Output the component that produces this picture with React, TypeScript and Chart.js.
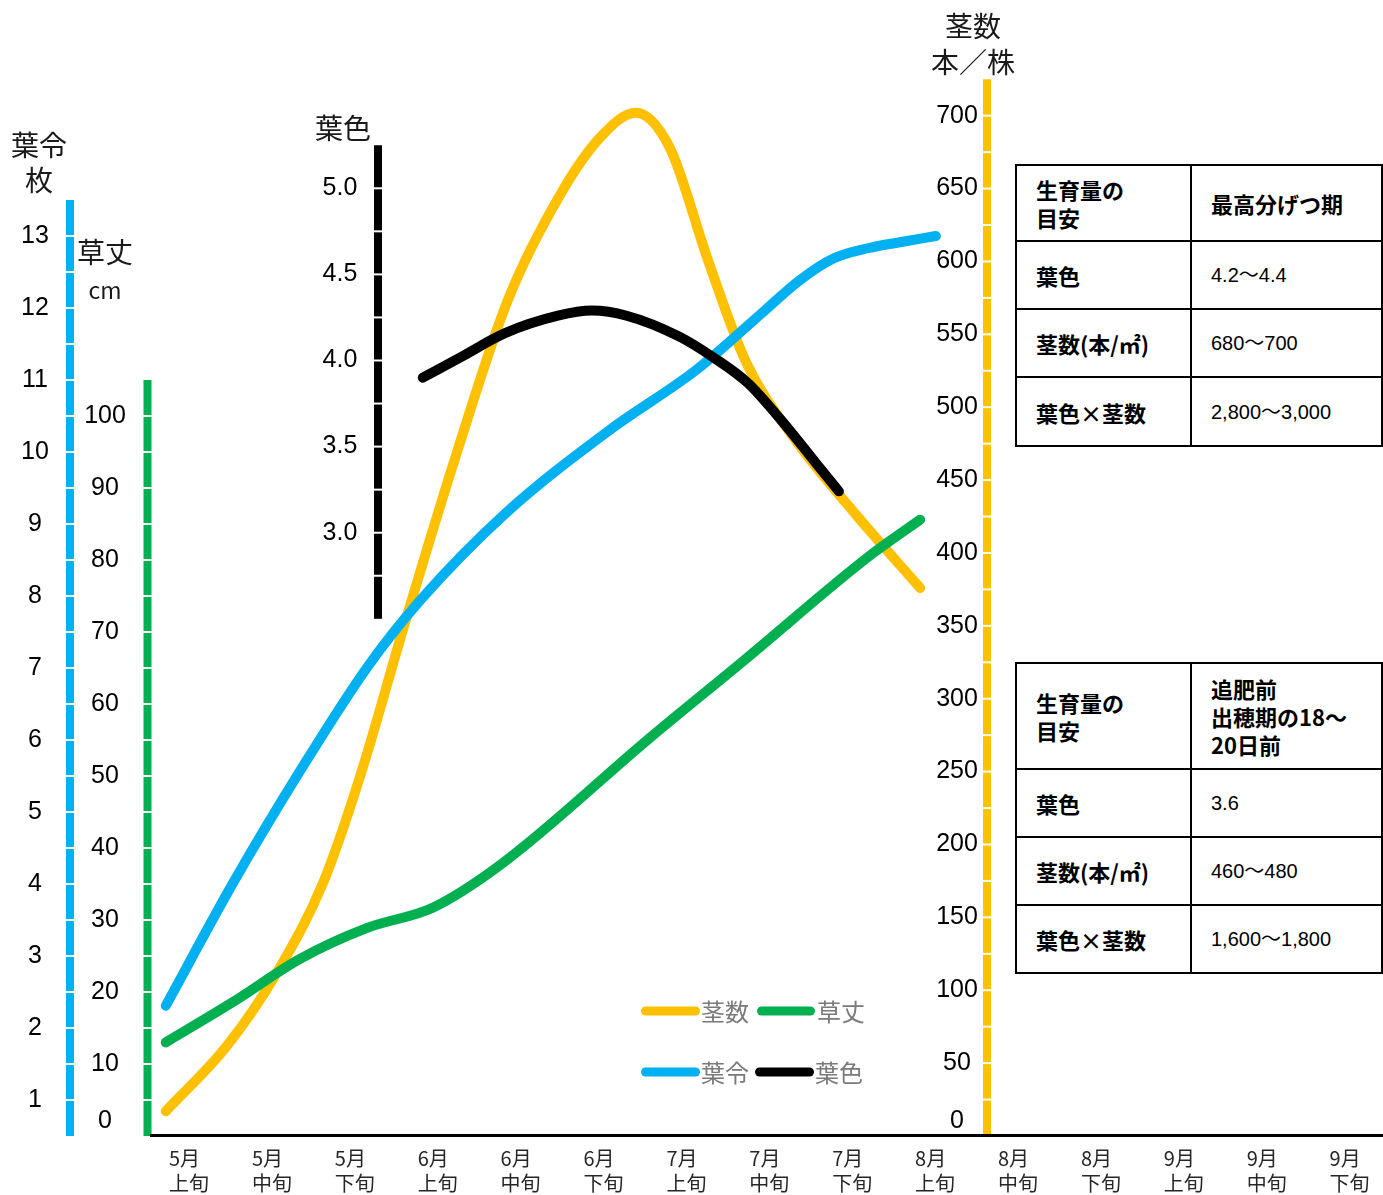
import React, { useEffect, useRef } from 'react';
import { Chart, registerables } from 'chart.js';

Chart.register(...registerables);

// ---------- categories / tick labels ----------
const monthLabels = ['5月', '5月', '5月', '6月', '6月', '6月', '7月', '7月', '7月', '8月', '8月', '8月', '9月', '9月', '9月'];
const periodLabels = ['上旬', '中旬', '下旬', '上旬', '中旬', '下旬', '上旬', '中旬', '下旬', '上旬', '中旬', '下旬', '上旬', '中旬', '下旬'];

const stemTicks = [0, 50, 100, 150, 200, 250, 300, 350, 400, 450, 500, 550, 600, 650, 700];
const leafAgeTicks = [1, 2, 3, 4, 5, 6, 7, 8, 9, 10, 11, 12, 13];
const heightTicks = [0, 10, 20, 30, 40, 50, 60, 70, 80, 90, 100];
const leafColorTicks = [3.0, 3.5, 4.0, 4.5, 5.0];

// ---------- series (x in period units from 5月上旬 start) ----------
const stemX = [0.19, 0.93, 1.53, 2.09, 2.53, 3.08, 3.68, 4.32, 4.95, 5.43, 5.86, 6.27, 6.73, 7.19, 7.78, 8.46, 9.29];
const stemValues = [17, 62, 112, 174, 246, 353, 465, 574, 646, 685, 702, 678, 601, 531, 478, 430, 376];

const heightX = [0.19, 1.0, 1.81, 2.62, 3.41, 4.22, 6.03, 7.17, 8.66, 9.29];
const heightValues = [13.0, 18.6, 24.6, 28.9, 31.7, 37.6, 55.3, 66.1, 80.4, 85.6];

const leafAgeX = [0.19, 1.0, 1.81, 2.62, 3.26, 4.29, 5.55, 6.59, 7.42, 7.83, 8.25, 8.66, 9.08, 9.48];
const leafAgeValues = [2.31, 4.01, 5.57, 7.01, 7.94, 9.15, 10.31, 11.14, 11.97, 12.38, 12.69, 12.83, 12.92, 13.0];

const leafColorX = [3.29, 3.75, 4.29, 4.92, 5.33, 5.75, 6.38, 6.79, 7.21, 7.62, 8.04, 8.31];
const leafColorValues = [3.9, 4.02, 4.16, 4.26, 4.29, 4.26, 4.14, 4.02, 3.87, 3.65, 3.4, 3.24];

// ---------- table contents ----------
const table1Rows = [
  ['生育量の\n目安', '最高分げつ期'],
  ['葉色', '4.2〜4.4'],
  ['茎数(本/㎡)', '680〜700'],
  ['葉色×茎数', '2,800〜3,000'],
];
const table2Rows = [
  ['生育量の\n目安', '追肥前\n出穂期の18〜\n20日前'],
  ['葉色', '3.6'],
  ['茎数(本/㎡)', '460〜480'],
  ['葉色×茎数', '1,600〜1,800'],
];

// ---------- layout / style ----------
const W = 1383;
const H = 1195;
const PLOT_LEFT = 150;
const PLOT_TOP = 79;
const PLOT_BOTTOM = 1136;
const CAT_WIDTH = 82.9;
const PLOT_H = PLOT_BOTTOM - PLOT_TOP;

const NUM_FONT = '"Liberation Sans", "Noto Sans CJK JP", sans-serif';
const JP_FONT = '"Noto Sans CJK JP", "Noto Sans CJK SC", sans-serif';

type AxisSpec = {
  id: string; color: string; barX: number; labelX: number; from: number; to: number; minor: number;
  base: number; pxPerUnit: number; ticks: number[]; decimals: number; title: string[]; titleX: number;
  titleY: number[]; titleSizes: number[];
};

const AXIS_SPECS: AxisSpec[] = [
  { id: 'yLeafAge', color: '#00B0F0', barX: 70, labelX: 35, from: 0.5, to: 13.5, minor: 0.5, base: 0.5, pxPerUnit: 72, ticks: leafAgeTicks, decimals: 0, title: ['葉令', '枚'], titleX: 39, titleY: [145, 180], titleSizes: [28, 28] },
  { id: 'yHeight', color: '#00B050', barX: 147.5, labelX: 105, from: 0, to: 105, minor: 5, base: 0, pxPerUnit: 7.2, ticks: heightTicks, decimals: 0, title: ['草丈', 'cm'], titleX: 105, titleY: [252, 290], titleSizes: [28, 23] },
  { id: 'yLeafColor', color: '#000000', barX: 378, labelX: 340, from: 2.5, to: 5.25, minor: 0.25, base: -0.5035, pxPerUnit: 172.2, ticks: leafColorTicks, decimals: 1, title: ['葉色'], titleX: 343, titleY: [128], titleSizes: [28] },
  { id: 'yStem', color: '#FFC000', barX: 987, labelX: 957, from: 0, to: 725, minor: 25, base: 0, pxPerUnit: 1.4576, ticks: stemTicks, decimals: 0, title: ['茎数', '本／株'], titleX: 973, titleY: [26, 62], titleSizes: [28, 28] },
];

const LEGEND_LAYOUT = [
  { label: '茎数', x0: 641, x1: 700, y: 1011, textX: 701 },
  { label: '草丈', x0: 757, x1: 815, y: 1011, textX: 817 },
  { label: '葉令', x0: 641, x1: 700, y: 1072, textX: 701 },
  { label: '葉色', x0: 755, x1: 814, y: 1072, textX: 815 },
];

const toPoints = (xs: number[], ys: number[]) => xs.map((x, i) => ({ x, y: ys[i] }));

const decorPlugin = {
  id: 'decor',
  beforeDatasetsDraw(chart: any) {
    const ctx = chart.ctx as CanvasRenderingContext2D;
    const area = chart.chartArea;
    ctx.save();
    for (const spec of AXIS_SPECS) {
      const sc = chart.scales[spec.id];
      const yTop = sc.getPixelForValue(spec.to);
      const yBot = sc.getPixelForValue(spec.from);
      ctx.fillStyle = spec.color;
      ctx.fillRect(spec.barX - 4, yTop, 8, yBot - yTop);
      ctx.fillStyle = '#ffffff';
      const n = Math.round((spec.to - spec.from) / spec.minor);
      for (let i = 1; i < n; i++) {
        const y = sc.getPixelForValue(spec.from + i * spec.minor);
        ctx.fillRect(spec.barX - 5, y - 1, 10, 2);
      }
      ctx.fillStyle = '#000000';
      ctx.font = '25px ' + NUM_FONT;
      ctx.textAlign = 'center';
      ctx.textBaseline = 'middle';
      for (const t of spec.ticks) {
        const y = Math.min(sc.getPixelForValue(t), area.bottom - 15);
        ctx.fillText(t.toFixed(spec.decimals), spec.labelX, y);
      }
      ctx.fillStyle = '#1a1a1a';
      spec.title.forEach((line, i) => {
        ctx.font = spec.titleSizes[i] + 'px ' + JP_FONT;
        ctx.fillText(line, spec.titleX, spec.titleY[i]);
      });
    }
    ctx.strokeStyle = '#000000';
    ctx.lineWidth = 3;
    ctx.beginPath();
    ctx.moveTo(area.left, area.bottom - 0.5);
    ctx.lineTo(area.right, area.bottom - 0.5);
    ctx.stroke();
    const xs = chart.scales.x;
    ctx.fillStyle = '#262626';
    ctx.font = '20px ' + JP_FONT;
    ctx.textAlign = 'left';
    ctx.textBaseline = 'middle';
    monthLabels.forEach((m, i) => {
      const px = xs.getPixelForValue(i) + 19;
      ctx.fillText(m, px, 1158);
      ctx.fillText(periodLabels[i], px, 1183);
    });
    ctx.restore();
  },
  afterDatasetsDraw(chart: any) {
    const ctx = chart.ctx as CanvasRenderingContext2D;
    ctx.save();
    for (const item of LEGEND_LAYOUT) {
      const ds = chart.data.datasets.find((d: any) => d.label === item.label);
      if (!ds) continue;
      ctx.strokeStyle = ds.borderColor;
      ctx.lineWidth = 9;
      ctx.lineCap = 'round';
      ctx.beginPath();
      ctx.moveTo(item.x0 + 4.5, item.y);
      ctx.lineTo(item.x1 - 4.5, item.y);
      ctx.stroke();
      ctx.fillStyle = '#7a7a7a';
      ctx.font = '24px ' + JP_FONT;
      ctx.textAlign = 'left';
      ctx.textBaseline = 'middle';
      ctx.fillText(item.label, item.textX, item.y + 1);
    }
    ctx.restore();
  },
};

function InfoTable({ rows, top, heights }: { rows: string[][]; top: number; heights: number[] }) {
  const cellBase: React.CSSProperties = {
    border: '2px solid #000',
    padding: '0 0 0 19px',
    verticalAlign: 'middle',
    color: '#000',
    whiteSpace: 'nowrap',
  };
  const labelStyle: React.CSSProperties = { ...cellBase, fontFamily: JP_FONT, fontWeight: 700, fontSize: 22, lineHeight: '28px' };
  const valueStyle: React.CSSProperties = { ...cellBase, fontFamily: NUM_FONT, fontSize: 20, lineHeight: '28px' };
  const lines = (s: string) => s.split('\n').map((l, i, arr) => (
    <React.Fragment key={i}>{l}{i < arr.length - 1 ? <br /> : null}</React.Fragment>
  ));
  return (
    <table style={{ position: 'absolute', left: 1015, top, width: 366, borderCollapse: 'collapse', tableLayout: 'fixed', background: '#fff' }}>
      <colgroup>
        <col style={{ width: 175 }} />
        <col style={{ width: 191 }} />
      </colgroup>
      <tbody>
        {rows.map((r, i) => (
          <tr key={i} style={{ height: heights[i] }}>
            <td style={labelStyle}>{lines(r[0])}</td>
            <td style={i === 0 ? labelStyle : valueStyle}>{lines(r[1])}</td>
          </tr>
        ))}
      </tbody>
    </table>
  );
}

export default function App() {
  const ref = useRef<HTMLCanvasElement | null>(null);

  useEffect(() => {
    if (!ref.current) return;
    const scales: any = {
      x: { type: 'linear', display: false, min: 0, max: (W - PLOT_LEFT) / CAT_WIDTH },
    };
    for (const spec of AXIS_SPECS) {
      scales[spec.id] = { type: 'linear', display: false, min: spec.base, max: spec.base + PLOT_H / spec.pxPerUnit };
    }
    const common = {
      borderWidth: 10,
      borderCapStyle: 'round' as const,
      borderJoinStyle: 'round' as const,
      pointRadius: 0,
      pointHoverRadius: 0,
      fill: false,
      cubicInterpolationMode: 'monotone' as const,
      xAxisID: 'x',
    };
    const chart = new Chart(ref.current, {
      type: 'line',
      data: {
        datasets: [
          { ...common, label: '茎数', data: toPoints(stemX, stemValues), borderColor: '#FFC000', backgroundColor: '#FFC000', yAxisID: 'yStem', order: 4 },
          { ...common, label: '草丈', data: toPoints(heightX, heightValues), borderColor: '#00B050', backgroundColor: '#00B050', yAxisID: 'yHeight', order: 2 },
          { ...common, label: '葉令', data: toPoints(leafAgeX, leafAgeValues), borderColor: '#00B0F0', backgroundColor: '#00B0F0', yAxisID: 'yLeafAge', order: 3 },
          { ...common, label: '葉色', data: toPoints(leafColorX, leafColorValues), borderColor: '#000000', backgroundColor: '#000000', yAxisID: 'yLeafColor', order: 1 },
        ],
      },
      options: {
        responsive: false,
        animation: false,
        devicePixelRatio: 1,
        layout: { padding: { left: PLOT_LEFT, right: 0, top: PLOT_TOP, bottom: H - PLOT_BOTTOM } },
        scales,
        plugins: { legend: { display: false }, tooltip: { enabled: false }, title: { display: false } },
        events: [],
      } as any,
      plugins: [decorPlugin],
    });
    return () => chart.destroy();
  }, []);

  return (
    <div style={{ position: 'absolute', left: 0, top: 0, width: W, height: H, background: '#fff', overflow: 'hidden' }}>
      <canvas ref={ref} width={W} height={H} style={{ position: 'absolute', left: 0, top: 0, width: W, height: H }} />
      <InfoTable rows={table1Rows} top={164} heights={[76, 68, 68, 69]} />
      <InfoTable rows={table2Rows} top={662} heights={[106, 68, 68, 68]} />
    </div>
  );
}
